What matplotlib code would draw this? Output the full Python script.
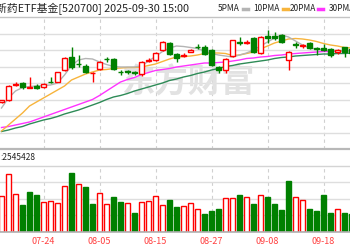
import matplotlib
matplotlib.use("Agg")
import matplotlib.pyplot as plt
import numpy as np
from matplotlib.patches import Rectangle

plt.rcParams['font.family'] = ['Noto Sans CJK SC', 'DejaVu Sans']

# 日期 (07-16 .. 09-24), 右侧和左侧被裁掉一部分
dates = ['07-16', '07-17', '07-18', '07-21', '07-22', '07-23', '07-24', '07-25', '07-28', '07-29',
         '07-30', '07-31', '08-01', '08-04', '08-05', '08-06', '08-07', '08-08', '08-11', '08-12',
         '08-13', '08-14', '08-15', '08-18', '08-19', '08-20', '08-21', '08-22', '08-25', '08-26',
         '08-27', '08-28', '08-29', '09-01', '09-02', '09-03', '09-04', '09-05', '09-08', '09-09',
         '09-10', '09-11', '09-12', '09-15', '09-16', '09-17', '09-18', '09-19', '09-22', '09-23',
         '09-24']
prev_close = 1.344
opens = [1.346, 1.350, 1.380, 1.384, 1.375, 1.379, 1.377, 1.387, 1.387, 1.410,
         1.437, 1.423, 1.419, 1.404, 1.412, 1.433, 1.432, 1.407, 1.408, 1.407,
         1.403, 1.429, 1.430, 1.450, 1.465, 1.442, 1.438, 1.447, 1.457, 1.457,
         1.450, 1.416, 1.410, 1.438, 1.467, 1.465, 1.474, 1.444, 1.478, 1.479,
         1.480, 1.430, 1.462, 1.458, 1.464, 1.454, 1.455, 1.452, 1.446, 1.456,
         1.452]
closes = [1.350, 1.378, 1.383, 1.377, 1.376, 1.375, 1.382, 1.386, 1.406, 1.435,
          1.417, 1.422, 1.407, 1.405, 1.426, 1.432, 1.412, 1.406, 1.407, 1.405,
          1.427, 1.430, 1.445, 1.467, 1.443, 1.434, 1.440, 1.451, 1.456, 1.443,
          1.420, 1.410, 1.432, 1.470, 1.465, 1.467, 1.446, 1.476, 1.475, 1.474,
          1.466, 1.446, 1.460, 1.461, 1.454, 1.452, 1.451, 1.440, 1.450, 1.446,
          1.444]
highs = [1.351, 1.380, 1.386, 1.386, 1.396, 1.382, 1.385, 1.396, 1.407, 1.436,
         1.457, 1.440, 1.423, 1.406, 1.428, 1.436, 1.434, 1.410, 1.411, 1.409,
         1.428, 1.434, 1.446, 1.468, 1.467, 1.445, 1.444, 1.452, 1.462, 1.460,
         1.452, 1.418, 1.434, 1.471, 1.476, 1.470, 1.476, 1.478, 1.490, 1.486,
         1.482, 1.448, 1.466, 1.462, 1.466, 1.456, 1.462, 1.454, 1.452, 1.457,
         1.454]
lows = [1.345, 1.349, 1.378, 1.372, 1.374, 1.372, 1.374, 1.384, 1.386, 1.408,
        1.413, 1.416, 1.404, 1.386, 1.410, 1.426, 1.410, 1.400, 1.402, 1.401,
        1.398, 1.426, 1.428, 1.449, 1.441, 1.426, 1.436, 1.446, 1.452, 1.441,
        1.418, 1.404, 1.404, 1.436, 1.460, 1.463, 1.444, 1.442, 1.464, 1.470,
        1.464, 1.410, 1.454, 1.455, 1.452, 1.440, 1.448, 1.437, 1.443, 1.436,
        1.442]
# 成交量 (万股)
volumes = [218, 351, 230, 163, 242, 224, 181, 187, 175, 278,
           357, 290, 272, 169, 236, 169, 212, 181, 175, 115,
           181, 187, 218, 163, 193, 151, 157, 175, 139, 109,
           127, 139, 206, 206, 224, 212, 169, 224, 212, 169,
           133, 308, 212, 193, 139, 127, 224, 115, 139, 115,
           109]

# 均线
ma5 = [1.334, 1.354, 1.368, 1.375, 1.377, 1.378, 1.379, 1.380, 1.384, 1.400,
       1.419, 1.430, 1.433, 1.432, 1.426, 1.421, 1.417, 1.416, 1.416, 1.416,
       1.418, 1.428, 1.437, 1.447, 1.454, 1.458, 1.457, 1.455, 1.453, 1.448,
       1.443, 1.440, 1.438, 1.436, 1.440, 1.444, 1.450, 1.458, 1.466, 1.474,
       1.480, 1.476, 1.468, 1.460, 1.454, 1.452, 1.450, 1.449, 1.449, 1.448,
       1.448]
ma10 = [1.288, 1.300, 1.312, 1.324, 1.338, 1.346, 1.354, 1.362, 1.370, 1.378,
        1.390, 1.396, 1.402, 1.406, 1.410, 1.411, 1.413, 1.414, 1.415, 1.415,
        1.416, 1.419, 1.422, 1.427, 1.432, 1.436, 1.437, 1.438, 1.440, 1.443,
        1.444, 1.444, 1.443, 1.439, 1.440, 1.443, 1.446, 1.452, 1.458, 1.464,
        1.468, 1.472, 1.473, 1.472, 1.470, 1.467, 1.463, 1.460, 1.458, 1.455,
        1.454]
ma20 = [1.295, 1.297, 1.300, 1.303, 1.306, 1.311, 1.316, 1.321, 1.326, 1.331,
        1.336, 1.341, 1.346, 1.351, 1.359, 1.368, 1.377, 1.386, 1.391, 1.395,
        1.401, 1.405, 1.409, 1.411, 1.413, 1.416, 1.418, 1.420, 1.422, 1.424,
        1.424, 1.425, 1.426, 1.428, 1.430, 1.433, 1.434, 1.436, 1.437, 1.439,
        1.440, 1.442, 1.443, 1.444, 1.445, 1.446, 1.447, 1.447, 1.448, 1.449,
        1.449]
ma30 = [1.287, 1.290, 1.294, 1.297, 1.302, 1.306, 1.310, 1.313, 1.317, 1.322,
        1.326, 1.330, 1.335, 1.340, 1.345, 1.351, 1.356, 1.359, 1.363, 1.368,
        1.372, 1.376, 1.380, 1.384, 1.389, 1.392, 1.396, 1.399, 1.403, 1.406,
        1.410, 1.413, 1.417, 1.419, 1.422, 1.424, 1.426, 1.428, 1.430, 1.433,
        1.435, 1.436, 1.438, 1.439, 1.440, 1.441, 1.442, 1.442, 1.443, 1.443,
        1.444]
tick_dates = ['07-24', '08-05', '08-15', '08-27', '09-08', '09-18']

UP = '#ff0000'
DOWN = '#008000'
GRID = '#dedede'
MA_COLORS = ['#b4b4b4', '#f7b43c', '#ff33ff', '#2e8b57']

W, H = 350, 250
fig = plt.figure(figsize=(W / 100, H / 100), dpi=100)

def box(top, bottom):
    return [0, 1 - bottom / H, 1, (bottom - top) / H]

def clean(a):
    for s in a.spines.values():
        s.set_visible(False)
    a.tick_params(length=0, labelleft=False, labelbottom=False)

xlim = (-1.5 / 7, (W - 1.5) / 7)
n = len(dates)
xs = np.arange(n)
bw = 0.62

# K线区
ax = fig.add_axes(box(17, 149.3))
ax.set_xlim(*xlim)
ax.set_ylim(1.2514, 1.516)
clean(ax)
ax.set_yticks(np.linspace(1.2514, 1.516, 9)[1:-1])
ax.set_xticks([dates.index(d) for d in tick_dates])
ax.grid(axis='y', color=GRID, lw=1, zorder=0)
ax.grid(axis='x', color='#d0d0d0', lw=0.8, ls=(0, (3, 3)), zorder=0)
ax.set_axisbelow(True)

# 水印
ax.text(188 / W, (149.3 - 83) / 132.3, '东方财富', transform=ax.transAxes, fontsize=24,
        fontweight='bold', style='italic', color='#e2e2e2', ha='center', va='center', zorder=1)

for ma, col in zip([ma30, ma20, ma10, ma5], MA_COLORS[::-1]):
    ax.plot(xs, ma, color=col, lw=1, zorder=2)

for i in xs:
    o, c, hi, lo = opens[i], closes[i], highs[i], lows[i]
    up = c >= o
    col = UP if up else DOWN
    ax.vlines(i, lo, min(o, c), color=col, lw=1, zorder=3)
    ax.vlines(i, max(o, c), hi, color=col, lw=1, zorder=3)
    hgt = max(abs(c - o), 0.001)
    ax.add_patch(Rectangle((i - bw / 2, min(o, c)), bw, hgt,
                           facecolor='white' if up else col, edgecolor=col, lw=1, zorder=4))

# 成交量区
vax = fig.add_axes(box(165.9, 232))
vax.set_xlim(*xlim)
vax.set_ylim(0, 400)
clean(vax)
vax.set_yticks([100, 200, 300])
vax.set_xticks([dates.index(d) for d in tick_dates])
vax.grid(axis='y', color=GRID, lw=1, zorder=0)
vax.grid(axis='x', color='#d0d0d0', lw=0.8, ls=(0, (3, 3)), zorder=0)
vax.set_axisbelow(True)
last = prev_close
for i in xs:
    up = closes[i] >= last
    last = closes[i]
    col = UP if up else DOWN
    vax.add_patch(Rectangle((i - bw / 2, 0), bw, volumes[i],
                            facecolor='white' if up else col, edgecolor=col, lw=1, zorder=3))

# 分隔线
for py, col, lw in [(17, '#c4c4c4', 1), (149.3, '#b8b8b8', 1.6), (165.9, '#d4d4d4', 1),
                    (232, '#b0b0b0', 1.2)]:
    fig.add_artist(plt.Line2D([0, 1], [1 - py / H] * 2, color=col, lw=lw))

# 文字
fig.text(-4 / W, 1 - 8.5 / H, '新药ETF基金[520700] 2025-09-30 15:00', fontsize=7.8,
         color='#222222', va='center', ha='left')
legend = [('5PMA', 218, 243), ('10PMA', 253, 283), ('20PMA', 290, 318), ('30PMA', 329, 358)]
for (name, px, mx), col in zip(legend, MA_COLORS):
    fig.text(px / W, 1 - 8.5 / H, name, fontsize=6, color='#222222', va='center', ha='left')
    fig.add_artist(plt.Line2D([mx / W, (mx + 5) / W], [1 - 8.5 / H] * 2, color=col, lw=2.5))
fig.text(0.5 / W, 1 - 158 / H, ':2545428', fontsize=6, color='#222222', va='center', ha='left')
for d in tick_dates:
    px = 1.5 + 7 * dates.index(d)
    fig.text(px / W, 1 - 241 / H, d, fontsize=6.5, color='#ff4040', va='center', ha='center')

fig.savefig('out.png', dpi=100)
